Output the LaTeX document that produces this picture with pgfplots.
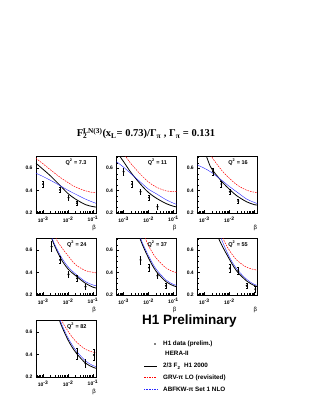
\documentclass[border=0pt]{standalone}
\usepackage{pgfplots}
\pgfplotsset{compat=1.18}
\usepackage{fontspec}
\setmainfont{Liberation Sans}
\newfontfamily\serif{Liberation Serif}

\pgfplotsset{
  scale only axis, width=60pt, height=56.3pt,
  xmin=5.2e-4, xmax=0.132, ymin=0.194, ymax=0.705,
  xtick={1e-3,1e-2,1e-1},
  xticklabels={10\textsuperscript{-3},10\textsuperscript{-2},10\textsuperscript{-1}},
  minor xtick={6e-4,7e-4,8e-4,9e-4,2e-3,3e-3,4e-3,5e-3,6e-3,7e-3,8e-3,9e-3,2e-2,3e-2,4e-2,5e-2,6e-2,7e-2,8e-2,9e-2},
  ytick={0.2,0.4,0.6}, yticklabels={0.2,0.4,0.6},
  minor ytick={0.25,0.3,0.35,0.45,0.5,0.55,0.65,0.7},
  tick align=inside, xtick pos=left, ytick pos=left,
  major tick length=3pt, minor tick length=1.5pt,
  tick style={black, line width=0.4pt},
  ticklabel style={font=\fontsize{5}{6}\selectfont\bfseries},
  axis line style={line width=0.6pt},
}
\tikzset{
 h1bk/.style={black, line width=0.8pt, smooth},
 h1rd/.style={red, dash pattern=on 1.6pt off 1pt, line width=0.5pt, smooth},
 h1bl/.style={blue!85, line width=0.4pt, smooth},
}
\newcommand{\qlab}[3]{\node[anchor=east, font=\fontsize{5.5}{6}\selectfont\bfseries] at (#1+54,#2+50.8) {Q\textsuperscript{2} = #3};
  \node[font=\fontsize{6}{7}\selectfont] at (#1+58,#2-15) {β};}

\begin{document}
\begin{tikzpicture}[x=1pt,y=1pt]
\useasboundingbox (0,0) rectangle (315,407);

% ---------- panel 1: Q2 = 7.3
\begin{axis}[xmode=log, anchor=south west, at={(36pt,194pt)}]
\addplot[h1bk, no marks] coordinates {(5.2e-4,0.645) (1e-3,0.59) (2e-3,0.53) (5e-3,0.44) (1e-2,0.37) (2e-2,0.32) (5e-2,0.27) (0.1,0.252) (0.132,0.248)};
\addplot[h1bl, no marks] coordinates {(5.2e-4,0.555) (1e-3,0.525) (2e-3,0.49) (5e-3,0.44) (1e-2,0.40) (2e-2,0.365) (5e-2,0.32) (0.1,0.292) (0.132,0.282)};
\addplot[h1rd, no marks] coordinates {(5.2e-4,0.69) (1e-3,0.64) (2e-3,0.585) (5e-3,0.515) (1e-2,0.47) (2e-2,0.43) (5e-2,0.395) (0.1,0.38) (0.132,0.378)};
\addplot[only marks, mark=*, mark size=0.8pt, black, error bars/.cd, y dir=both, y explicit, error bar style={line width=0.5pt}, error mark options={rotate=90, mark size=0.9pt, line width=0.5pt}] coordinates {(1e-3,0.455) +- (0,0.03) (4.79e-3,0.403) +- (0,0.025) (1.047e-2,0.333) +- (0,0.02) (2.29e-2,0.282) +- (0,0.02)};
\end{axis}
\qlab{36}{194}{7.3}

% ---------- panel 2: Q2 = 11
\begin{axis}[xmode=log, anchor=south west, at={(116.5pt,194pt)}]
\addplot[h1bk, no marks] coordinates {(5.2e-4,0.76) (7e-4,0.71) (1e-3,0.66) (2e-3,0.56) (5e-3,0.45) (1e-2,0.38) (2e-2,0.33) (5e-2,0.28) (0.1,0.255) (0.132,0.25)};
\addplot[h1bl, no marks] coordinates {(5.2e-4,0.66) (1e-3,0.61) (2e-3,0.55) (5e-3,0.47) (1e-2,0.41) (2e-2,0.37) (5e-2,0.315) (0.1,0.283) (0.132,0.273)};
\addplot[h1rd, no marks] coordinates {(5.2e-4,0.84) (1.2e-3,0.71) (2e-3,0.64) (5e-3,0.54) (1e-2,0.475) (2e-2,0.43) (5e-2,0.395) (0.1,0.388) (0.132,0.387)};
\addplot[only marks, mark=*, mark size=0.8pt, black, error bars/.cd, y dir=both, y explicit, error bar style={line width=0.5pt}, error mark options={rotate=90, mark size=0.9pt, line width=0.5pt}] coordinates {(1e-3,0.569) +- (0,0.03) (2.19e-3,0.455) +- (0,0.025) (4.79e-3,0.387) +- (0,0.025) (1.047e-2,0.333) +- (0,0.02) (2.29e-2,0.251) +- (0,0.02)};
\end{axis}
\qlab{116.5}{194}{11}

% ---------- panel 3: Q2 = 16
\begin{axis}[xmode=log, anchor=south west, at={(197.3pt,194pt)}, xticklabels={10\textsuperscript{-3},10\textsuperscript{-2},{}}]
\addplot[h1bk, no marks] coordinates {(6e-4,0.88) (1.2e-3,0.71) (1.9e-3,0.60) (5e-3,0.48) (1e-2,0.41) (2e-2,0.35) (5e-2,0.295) (0.1,0.27) (0.132,0.266)};
\addplot[h1bl, no marks] coordinates {(5.2e-4,0.63) (1e-3,0.60) (2e-3,0.56) (5e-3,0.49) (1e-2,0.435) (2e-2,0.385) (5e-2,0.32) (0.1,0.29) (0.132,0.28)};
\addplot[h1rd, no marks] coordinates {(1e-3,0.85) (1.9e-3,0.71) (5e-3,0.58) (1e-2,0.51) (2e-2,0.45) (5e-2,0.40) (0.1,0.383) (0.132,0.378)};
\addplot[only marks, mark=*, mark size=0.8pt, black, error bars/.cd, y dir=both, y explicit, error bar style={line width=0.5pt}, error mark options={rotate=90, mark size=0.9pt, line width=0.5pt}] coordinates {(2.19e-3,0.57) +- (0,0.03) (4.79e-3,0.457) +- (0,0.025) (1.047e-2,0.387) +- (0,0.025) (2.29e-2,0.303) +- (0,0.02)};
\end{axis}
\qlab{197.3}{194}{16}

% ---------- panel 4: Q2 = 24
\begin{axis}[xmode=log, anchor=south west, at={(36pt,112pt)}]
\addplot[h1bk, no marks] coordinates {(1.2e-3,0.95) (2.2e-3,0.71) (5e-3,0.53) (1e-2,0.43) (2e-2,0.37) (5e-2,0.30) (0.1,0.265) (0.132,0.258)};
\addplot[h1bl, no marks] coordinates {(1.2e-3,0.96) (2.3e-3,0.71) (5e-3,0.55) (1e-2,0.45) (2e-2,0.385) (5e-2,0.315) (0.1,0.285) (0.132,0.278)};
\addplot[h1rd, no marks] coordinates {(1.8e-3,0.92) (3.3e-3,0.71) (5e-3,0.64) (1e-2,0.55) (2e-2,0.47) (5e-2,0.415) (0.1,0.40) (0.132,0.395)};
\addplot[only marks, mark=*, mark size=0.8pt, black, error bars/.cd, y dir=both, y explicit, error bar style={line width=0.5pt}, error mark options={rotate=90, mark size=0.9pt, line width=0.5pt}] coordinates {(2.19e-3,0.633) +- (0,0.045) (4.79e-3,0.512) +- (0,0.03) (1.047e-2,0.382) +- (0,0.03) (2.29e-2,0.345) +- (0,0.025) (5.01e-2,0.269) +- (0,0.025)};
\end{axis}
\qlab{36}{112}{24}

% ---------- panel 5: Q2 = 37
\begin{axis}[xmode=log, anchor=south west, at={(116.5pt,112pt)}]
\addplot[h1bk, no marks] coordinates {(2.5e-3,0.93) (4.5e-3,0.71) (1e-2,0.53) (2e-2,0.41) (5e-2,0.315) (0.1,0.278) (0.132,0.27)};
\addplot[h1bl, no marks] coordinates {(2.7e-3,0.93) (4.8e-3,0.71) (1e-2,0.55) (2e-2,0.43) (5e-2,0.33) (0.1,0.29) (0.132,0.282)};
\addplot[h1rd, no marks] coordinates {(4.5e-3,0.92) (7.6e-3,0.71) (1e-2,0.64) (2e-2,0.53) (5e-2,0.44) (0.1,0.405) (0.132,0.40)};
\addplot[only marks, mark=*, mark size=0.8pt, black, error bars/.cd, y dir=both, y explicit, error bar style={line width=0.5pt}, error mark options={rotate=90, mark size=0.9pt, line width=0.5pt}] coordinates {(4.79e-3,0.512) +- (0,0.035) (1.047e-2,0.442) +- (0,0.03) (2.29e-2,0.369) +- (0,0.025) (5.01e-2,0.278) +- (0,0.025)};
\end{axis}
\qlab{116.5}{112}{37}

% ---------- panel 6: Q2 = 55
\begin{axis}[xmode=log, anchor=south west, at={(197.3pt,112pt)}, xticklabels={10\textsuperscript{-3},10\textsuperscript{-2},{}}]
\addplot[h1bk, no marks] coordinates {(2e-3,0.92) (3.7e-3,0.71) (1e-2,0.52) (2e-2,0.41) (5e-2,0.32) (0.1,0.28) (0.132,0.27)};
\addplot[h1bl, no marks] coordinates {(2.6e-3,0.92) (4.7e-3,0.71) (1e-2,0.54) (2e-2,0.43) (5e-2,0.335) (0.1,0.29) (0.132,0.282)};
\addplot[h1rd, no marks] coordinates {(3.2e-3,0.92) (5.6e-3,0.71) (1e-2,0.60) (2e-2,0.51) (5e-2,0.445) (0.1,0.425) (0.132,0.42)};
\addplot[only marks, mark=*, mark size=0.8pt, black, error bars/.cd, y dir=both, y explicit, error bar style={line width=0.5pt}, error mark options={rotate=90, mark size=0.9pt, line width=0.5pt}] coordinates {(1.047e-2,0.436) +- (0,0.035) (2.29e-2,0.412) +- (0,0.03) (5.01e-2,0.278) +- (0,0.025) (0.11,0.248) +- (0,0.025)};
\end{axis}
\qlab{197.3}{112}{55}

% ---------- panel 7: Q2 = 82
\begin{axis}[xmode=log, anchor=south west, at={(36pt,30pt)}]
\addplot[h1bk, no marks] coordinates {(2.5e-3,0.93) (4.5e-3,0.71) (1e-2,0.53) (2e-2,0.42) (5e-2,0.32) (0.1,0.283) (0.132,0.273)};
\addplot[h1bl, no marks] coordinates {(2.7e-3,0.93) (4.8e-3,0.71) (1e-2,0.55) (2e-2,0.44) (5e-2,0.34) (0.1,0.298) (0.132,0.29)};
\addplot[h1rd, no marks] coordinates {(3.2e-3,0.92) (5.6e-3,0.71) (1e-2,0.61) (2e-2,0.52) (5e-2,0.445) (0.1,0.42) (0.132,0.415)};
\addplot[only marks, mark=*, mark size=0.8pt, black, error bars/.cd, y dir=both, y explicit, error bar style={line width=0.5pt}, error mark options={rotate=90, mark size=0.9pt, line width=0.5pt}] coordinates {(2.29e-2,0.409) +- (0,0.05) (5.01e-2,0.318) +- (0,0.035) (0.11,0.394) +- (0,0.05)};
\end{axis}
\qlab{36}{30}{82}

% ---------- title
\node[anchor=base, font=\serif\bfseries\fontsize{10.5}{12}\selectfont] at (146,270)
 {F\rlap{\textsubscript{2}}\textsuperscript{LN(3)}(x\textsubscript{L}= 0.73)/Γ\textsubscript{π} , Γ\textsubscript{π} = 0.131};

% ---------- H1 Preliminary and legend
\node[anchor=base west, font=\bfseries\fontsize{13.5}{15}\selectfont, inner sep=0pt] at (142,82) {H1 Preliminary};
\begin{scope}[every node/.style={anchor=base west, inner sep=0pt, font=\bfseries\fontsize{6.3}{7}\selectfont}]
\fill[black] (155,63) circle (0.9);
\node at (163,61) {H1 data (prelim.)};
\node at (165,51) {HERA-II};
\draw[black, line width=0.8pt] (144,41) -- (157,41);
\node at (163,39) {2/3 F\textsubscript{2}\ \ H1 2000};
\draw[red, dash pattern=on 1.6pt off 1pt, line width=0.5pt] (144,29.3) -- (157,29.3);
\node at (163,27.3) {GRV-π LO (revisited)};
\draw[blue!85, dash pattern=on 0.8pt off 0.8pt, line width=0.4pt] (144,17.7) -- (157,17.7);
\node at (163,15.7) {ABFKW-π Set 1 NLO};
\end{scope}
\end{tikzpicture}
\end{document}
